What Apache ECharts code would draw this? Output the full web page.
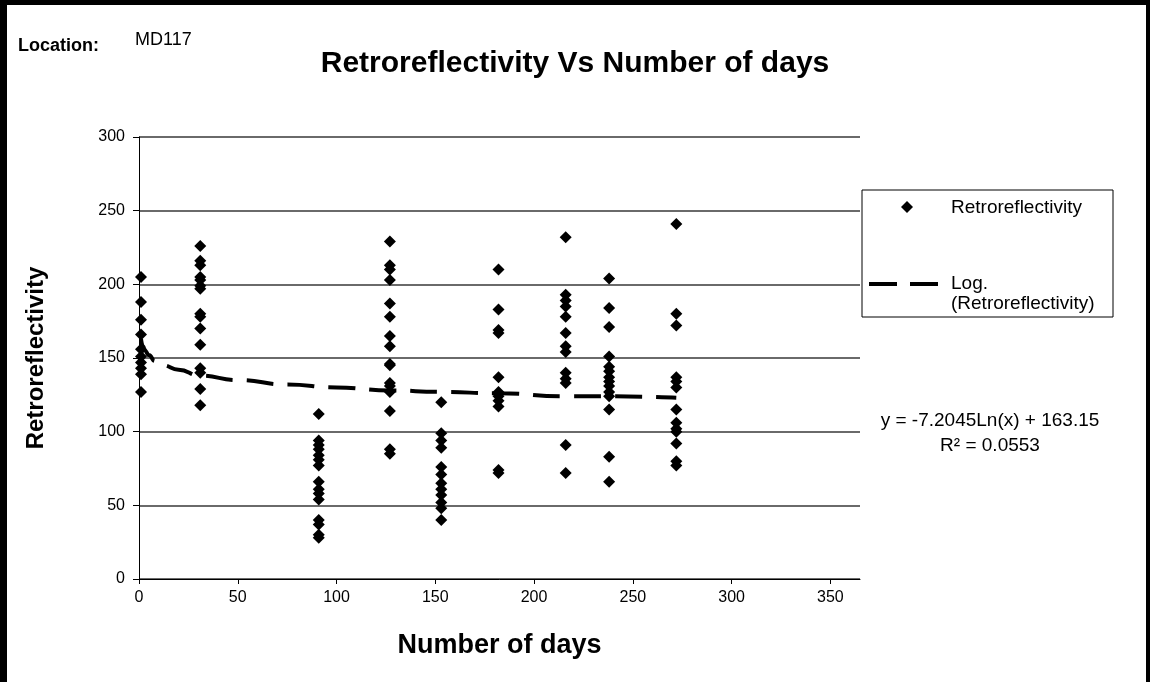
<!DOCTYPE html>
<html><head><meta charset="utf-8">
<script src="https://cdn.jsdelivr.net/npm/echarts@6/dist/echarts.min.js"></script>
<style>
html,body{margin:0;padding:0;background:#fff;}
#chart{width:1150px;height:682px;}
#frame{position:absolute;left:0;top:0;width:1150px;height:682px;box-sizing:border-box;border-left:7px solid #000;border-top:5px solid #000;border-right:4px solid #000;pointer-events:none;}
</style></head><body>
<div id="chart"></div>
<div id="frame"></div>
<script>
// ---- data ----
const days = [1, 31, 91, 127, 153, 182, 216, 238, 272];
const retroByDay = [
  [205, 188, 176, 166, 156, 151, 147, 143, 139, 127],
  [226, 216, 213, 205, 203, 199, 197, 180, 178, 170, 159, 143, 140, 129, 118],
  [112, 94, 91, 88, 84, 81, 77, 66, 61, 58, 54, 40, 37, 30, 28],
  [229, 213, 210, 203, 187, 178, 165, 158, 146, 145, 133, 131, 127, 114, 88, 85],
  [120, 99, 94, 89, 76, 71, 65, 61, 57, 52, 48, 40],
  [210, 183, 169, 167, 137, 127, 124, 121, 117, 74, 72],
  [232, 193, 189, 185, 178, 167, 158, 154, 140, 136, 133, 91, 72],
  [204, 184, 171, 151, 144, 141, 137, 134, 131, 127, 124, 115, 83, 66],
  [241, 180, 172, 137, 134, 130, 115, 106, 102, 100, 92, 80, 77]
];
const trendDays = [1, 2, 3, 5, 8, 12, 20, 31, 50, 75, 100, 127, 153, 182, 216, 238, 272];
const trendValues = [163, 158, 155, 152, 148, 145, 142, 138, 135, 132, 130, 128, 127, 126, 124, 124, 123];
const xTickLabels = [0, 50, 100, 150, 200, 250, 300, 350];
const yTickLabels = [0, 50, 100, 150, 200, 250, 300];
const titleText = 'Retroreflectivity Vs Number of days';
const locationLabel = 'Location:';
const locationValue = 'MD117';
const equationText = 'y = -7.2045Ln(x) + 163.15';
const r2Text = 'R² = 0.0553';

// ---- build series ----
const scatterData = [];
days.forEach((d, i) => retroByDay[i].forEach(v => scatterData.push([d, v])));
const trendData = trendDays.map((d, i) => [d, trendValues[i]]);

const FONT = 'Liberation Sans, Arial, sans-serif';
const chart = echarts.init(document.getElementById('chart'), null, {renderer: 'canvas'});
chart.setOption({
  animation: false,
  backgroundColor: '#fff',
  textStyle: {fontFamily: FONT},
  grid: {left: 139, top: 137, width: 721, height: 442, containLabel: false},
  xAxis: {
    type: 'value', min: 0, max: 365, interval: 50,
    name: 'Number of days', nameLocation: 'middle', nameGap: 53,
    nameTextStyle: {fontFamily: FONT, fontSize: 27, fontWeight: 'bold', color: '#000'},
    axisLine: {show: true, lineStyle: {color: '#000', width: 1}},
    axisTick: {show: true, length: 5, lineStyle: {color: '#000'}, customValues: xTickLabels},
    axisLabel: {fontFamily: FONT, fontSize: 16, color: '#000', margin: 11, customValues: xTickLabels},
    splitLine: {show: false}
  },
  yAxis: {
    type: 'value', min: 0, max: 300, interval: 50,
    name: 'Retroreflectivity', nameLocation: 'middle', nameGap: 91, nameRotate: 90,
    nameTextStyle: {fontFamily: FONT, fontSize: 24, fontWeight: 'bold', color: '#000'},
    axisLine: {show: true, lineStyle: {color: '#000', width: 1}},
    axisTick: {show: true, length: 6, lineStyle: {color: '#000'}, customValues: yTickLabels},
    axisLabel: {fontFamily: FONT, fontSize: 16, color: '#000', margin: 14, customValues: yTickLabels},
    splitLine: {show: true, lineStyle: {color: '#6a6a6a', width: 2}}
  },
  series: [
    {
      name: 'Retroreflectivity', type: 'scatter', data: scatterData,
      symbol: 'diamond', symbolSize: 12,
      itemStyle: {color: '#000', opacity: 1}, z: 3
    },
    {
      name: 'Log. (Retroreflectivity)', type: 'line', data: trendData,
      smooth: true, smoothMonotone: 'x', showSymbol: false, symbol: 'none',
      lineStyle: {color: '#000', width: 4, type: [27, 14]}, z: 4
    }
  ],
  graphic: [
    {type: 'text', left: 18, top: 37, style: {text: locationLabel, font: 'bold 18px ' + FONT, fill: '#000'}},
    {type: 'text', left: 135, top: 31, style: {text: locationValue, font: '18px ' + FONT, fill: '#000'}},
    {type: 'text', left: 'center', top: 49, style: {text: titleText, font: 'bold 30px ' + FONT, fill: '#000'}},
    // legend box
    {type: 'rect', shape: {x: 862, y: 190, width: 251, height: 127}, style: {fill: '#fff', stroke: '#000', lineWidth: 1}},
    {type: 'polygon', shape: {points: [[907, 201], [913, 207], [907, 213], [901, 207]]}, style: {fill: '#000'}},
    {type: 'text', x: 951, y: 208, style: {text: 'Retroreflectivity', font: '19px ' + FONT, fill: '#000', verticalAlign: 'middle'}},
    {type: 'line', shape: {x1: 869, y1: 284, x2: 938, y2: 284}, style: {stroke: '#000', lineWidth: 4, lineDash: [28, 13]}},
    {type: 'text', x: 951, y: 284, style: {text: 'Log.', font: '19px ' + FONT, fill: '#000', verticalAlign: 'middle'}},
    {type: 'text', x: 951, y: 304, style: {text: '(Retroreflectivity)', font: '19px ' + FONT, fill: '#000', verticalAlign: 'middle'}},
    // trendline equation
    {type: 'text', x: 990, y: 421, style: {text: equationText, font: '19px ' + FONT, fill: '#000', align: 'center', verticalAlign: 'middle'}},
    {type: 'text', x: 990, y: 446, style: {text: r2Text, font: '19px ' + FONT, fill: '#000', align: 'center', verticalAlign: 'middle'}}
  ]
});
</script>
</body></html>
